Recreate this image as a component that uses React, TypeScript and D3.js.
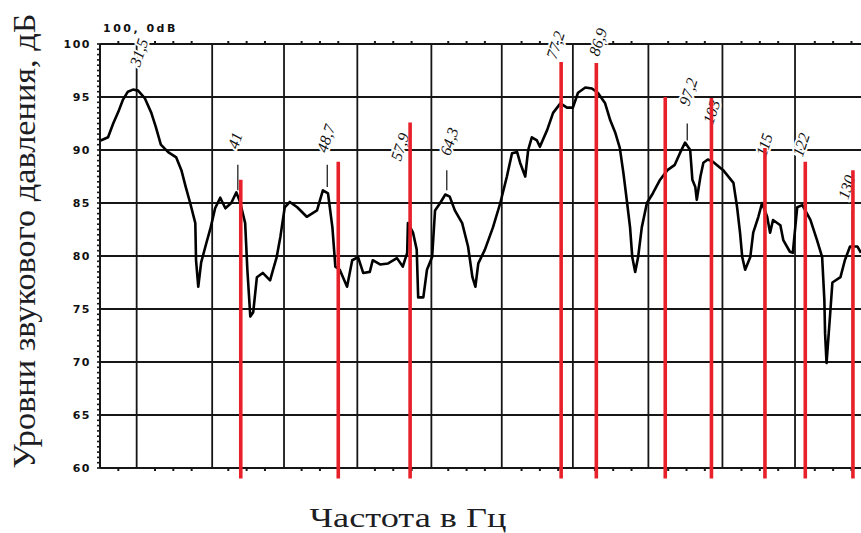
import { useEffect, useRef } from 'react';
import * as d3 from 'd3';

// положение по оси частот в делениях сетки (от левого края рамки)
const tracePos = [
  0.01, 0.11, 0.18, 0.25, 0.31, 0.38, 0.45, 0.52, 0.61, 0.7,
  0.76, 0.83, 0.93, 1.04, 1.11, 1.17, 1.23, 1.3, 1.31, 1.34,
  1.38, 1.45, 1.51, 1.57, 1.64, 1.71, 1.79, 1.86, 1.91, 1.98,
  2.01, 2.05, 2.09, 2.14, 2.22, 2.32, 2.36, 2.41, 2.46, 2.52,
  2.59, 2.69, 2.82, 2.96, 3.04, 3.11, 3.17, 3.21, 3.27, 3.37,
  3.44, 3.52, 3.59, 3.68, 3.72, 3.82, 3.93, 4.05, 4.13, 4.19,
  4.2, 4.27, 4.32, 4.34, 4.41, 4.46, 4.53, 4.57, 4.64, 4.71,
  4.77, 4.84, 4.94, 5.02, 5.08, 5.12, 5.16, 5.25, 5.36, 5.46,
  5.55, 5.62, 5.69, 5.73, 5.8, 5.84, 5.89, 5.96, 6.0, 6.1,
  6.18, 6.28, 6.37, 6.45, 6.52, 6.62, 6.71, 6.79, 6.89, 6.96,
  7.03, 7.09, 7.14, 7.19, 7.23, 7.26, 7.3, 7.34, 7.39, 7.46,
  7.54, 7.64, 7.74, 7.84, 7.91, 7.98, 8.05, 8.08, 8.12, 8.14,
  8.19, 8.23, 8.29, 8.36, 8.5, 8.64, 8.69, 8.73, 8.76, 8.8,
  8.87, 8.91, 8.98, 9.03, 9.1, 9.14, 9.18, 9.28, 9.32, 9.41,
  9.45, 9.51, 9.58, 9.69, 9.78, 9.85, 9.88, 9.89, 9.91, 9.96,
  9.99, 10.1, 10.16, 10.23, 10.33, 10.38,
];
// уровень звукового давления, дБ
const traceLevel = [
  90.9, 91.2, 92.5, 93.6, 94.7, 95.5, 95.7, 95.6, 94.9, 93.5,
  92.2, 90.5, 89.8, 89.3, 88.1, 86.5, 85.0, 83.1, 79.6, 77.1,
  79.4, 81.2, 82.7, 84.5, 85.5, 84.5, 85.0, 86.0, 85.1, 83.1,
  78.7, 74.3, 74.7, 78.0, 78.4, 77.7, 78.7, 79.9, 81.8, 84.6,
  85.1, 84.6, 83.7, 84.3, 86.2, 85.9, 82.7, 79.0, 78.7, 77.1,
  79.6, 79.9, 78.4, 78.5, 79.6, 79.2, 79.3, 79.8, 79.0, 80.3,
  83.1, 82.2, 80.6, 76.1, 76.1, 78.7, 79.9, 84.3, 85.0, 85.8,
  85.6, 84.3, 83.1, 80.9, 78.0, 77.1, 79.3, 80.6, 82.7, 85.0,
  87.5, 89.7, 89.8, 88.8, 87.5, 90.0, 91.2, 90.9, 90.3, 91.9,
  93.5, 94.4, 94.0, 94.0, 95.4, 95.9, 95.8, 95.4, 94.4, 92.8,
  91.6, 90.2, 87.8, 85.0, 82.7, 79.9, 78.5, 79.9, 82.7, 85.0,
  85.9, 87.2, 88.1, 88.6, 89.7, 90.7, 90.0, 87.2, 86.5, 85.3,
  87.5, 88.8, 89.1, 88.9, 88.1, 86.9, 84.6, 82.2, 79.9, 78.7,
  79.9, 82.2, 83.7, 85.0, 83.7, 82.2, 83.4, 82.9, 81.5, 80.4,
  80.3, 84.6, 84.8, 83.4, 81.5, 79.9, 75.9, 72.7, 69.9, 74.6,
  77.5, 78.0, 79.6, 80.9, 80.9, 80.3,
];

// красные отметки
const markerPos = [1.92, 3.25, 4.23, 6.29, 6.77, 7.71, 8.34, 9.07, 9.62, 10.27];
const markerTop = [87.2, 88.9, 92.6, 98.3, 98.2, 95.0, 94.9, 90.2, 88.9, 88.1];
const markerBottom = 59;

// рукописные подписи частот
const labelText = ['31,5', '41', '48,7', '57,9', '64,3', '77,2', '86,9', '97,2', '103', '115', '122', '130'];
const labelPos = [0.53, 1.84, 3.08, 4.09, 4.76, 6.21, 6.79, 8.02, 8.34, 9.06, 9.56, 10.18];
const labelLevel = [99.2, 90.9, 91.1, 90.3, 90.8, 99.9, 100.2, 95.5, 93.6, 90.5, 90.5, 86.5];

// выносные черточки от подписей к пикам
const leaderPos = [1.88, 3.1, 4.73, 8.01, 10.26];
const leaderTop = [88.6, 88.6, 88.1, 92.5, 84.3];
const leaderBottom = [86.2, 86.5, 86.2, 90.9, 81.5];

const gridPos = [0.5, 1.53, 2.51, 3.51, 4.52, 5.48, 6.45, 7.48, 8.49, 9.48];
const yTicks = [100, 95, 90, 85, 80, 75, 70, 65, 60];

const W = 861;
const H = 533;

const App = () => {
  const svgRef = useRef<SVGSVGElement | null>(null);

  useEffect(() => {
    const svg = d3.select(svgRef.current);
    svg.selectAll('*').remove();

    const x = d3.scaleLinear().domain([0, 10.38]).range([100, 861]);
    const y = d3.scaleLinear().domain([60, 100]).range([468, 44]);
    const gridColor = '#161616';

    svg.append('rect').attr('width', W).attr('height', H).attr('fill', '#fff');

    // горизонтальная сетка
    svg
      .append('g')
      .selectAll('line')
      .data(yTicks)
      .join('line')
      .attr('x1', x(0))
      .attr('x2', W)
      .attr('y1', (d) => y(d))
      .attr('y2', (d) => y(d))
      .attr('stroke', gridColor)
      .attr('stroke-width', (d) => (d === 100 || d === 60 ? 2 : 1.8));

    // вертикальная сетка
    svg
      .append('g')
      .selectAll('line')
      .data([0, ...gridPos])
      .join('line')
      .attr('x1', (d) => x(d))
      .attr('x2', (d) => x(d))
      .attr('y1', y(100))
      .attr('y2', y(60))
      .attr('stroke', gridColor)
      .attr('stroke-width', (d) => (d === 0 ? 2 : 1.8));

    // мелкие риски по краям рамки
    const quarter = d3.range(0.25, 10.38, 0.25).filter((d) => Math.abs((d % 1) - 0.5) > 0.01);
    svg
      .append('g')
      .selectAll('line')
      .data(quarter)
      .join('line')
      .attr('x1', (d) => x(d))
      .attr('x2', (d) => x(d))
      .attr('y1', y(100) - 3)
      .attr('y2', y(100))
      .attr('stroke', gridColor)
      .attr('stroke-width', 2);
    svg
      .append('g')
      .selectAll('line')
      .data(quarter)
      .join('line')
      .attr('x1', (d) => x(d))
      .attr('x2', (d) => x(d))
      .attr('y1', y(60))
      .attr('y2', y(60) + 3)
      .attr('stroke', gridColor)
      .attr('stroke-width', 2);
    svg
      .append('g')
      .selectAll('line')
      .data(d3.range(60, 100.01, 0.5))
      .join('line')
      .attr('x1', x(0) - 3)
      .attr('x2', x(0))
      .attr('y1', (d) => y(d))
      .attr('y2', (d) => y(d))
      .attr('stroke', gridColor)
      .attr('stroke-width', 1.6);

    // подписи оси уровней
    svg
      .append('g')
      .selectAll('text')
      .data(yTicks)
      .join('text')
      .attr('x', x(0) - 9)
      .attr('y', (d) => y(d))
      .attr('dy', '0.36em')
      .attr('text-anchor', 'end')
      .style('font-family', 'DejaVu Sans, sans-serif')
      .style('font-size', '11px')
      .style('font-weight', 'bold')
      .style('letter-spacing', '1.5px')
      .attr('fill', '#111')
      .text((d) => d);

    svg
      .append('text')
      .attr('x', x(0) + 3)
      .attr('y', 32)
      .style('font-family', 'DejaVu Sans, sans-serif')
      .style('font-size', '11px')
      .style('font-weight', 'bold')
      .style('letter-spacing', '2.5px')
      .attr('fill', '#111')
      .text('100, 0dB');

    // кривая спектра
    const points = d3.zip(tracePos, traceLevel) as [number, number][];
    const line = d3
      .line<[number, number]>()
      .x((d) => x(d[0]))
      .y((d) => y(d[1]));
    svg
      .append('path')
      .datum(points)
      .attr('d', line)
      .attr('fill', 'none')
      .attr('stroke', '#000')
      .attr('stroke-width', 2.6)
      .attr('stroke-linejoin', 'round');

    // выноски
    svg
      .append('g')
      .selectAll('line')
      .data(leaderPos)
      .join('line')
      .attr('x1', (d) => x(d))
      .attr('x2', (d) => x(d))
      .attr('y1', (d, i) => y(leaderTop[i]))
      .attr('y2', (d, i) => y(leaderBottom[i]))
      .attr('stroke', '#222')
      .attr('stroke-width', 1.3);

    // рукописные подписи
    svg
      .append('g')
      .selectAll('text')
      .data(labelText)
      .join('text')
      .attr('transform', (d, i) => `translate(${x(labelPos[i])},${y(labelLevel[i])}) rotate(-72)`)
      .attr('text-anchor', 'middle')
      .attr('dy', '0.35em')
      .style('font-family', 'Liberation Serif, serif')
      .style('font-style', 'italic')
      .style('font-size', '16px')
      .attr('fill', '#111')
      .attr('stroke', '#fff')
      .attr('stroke-width', 4)
      .style('paint-order', 'stroke')
      .text((d) => d);

    // красные отметки
    svg
      .append('g')
      .selectAll('line')
      .data(markerPos)
      .join('line')
      .attr('x1', (d) => x(d))
      .attr('x2', (d) => x(d))
      .attr('y1', (d, i) => y(markerTop[i]))
      .attr('y2', y(markerBottom))
      .attr('stroke', '#e8202a')
      .attr('stroke-width', 3.6);

    // названия осей
    svg
      .append('text')
      .attr('transform', `translate(35,241) rotate(-90)`)
      .attr('text-anchor', 'middle')
      .attr('textLength', 455)
      .attr('lengthAdjust', 'spacingAndGlyphs')
      .style('font-family', 'Liberation Serif, serif')
      .style('font-size', '31px')
      .attr('fill', '#1d1d24')
      .text('Уровни звукового давления, дБ');

    svg
      .append('text')
      .attr('x', 408)
      .attr('y', 527)
      .attr('text-anchor', 'middle')
      .attr('textLength', 197)
      .attr('lengthAdjust', 'spacingAndGlyphs')
      .style('font-family', 'Liberation Serif, serif')
      .style('font-size', '28px')
      .attr('fill', '#1d1d24')
      .text('Частота в Гц');
  }, []);

  return (
    <div style={{ position: 'fixed', left: 0, top: 0 }}>
      <svg ref={svgRef} width={W} height={H} style={{ display: 'block' }} />
    </div>
  );
};

export default App;
